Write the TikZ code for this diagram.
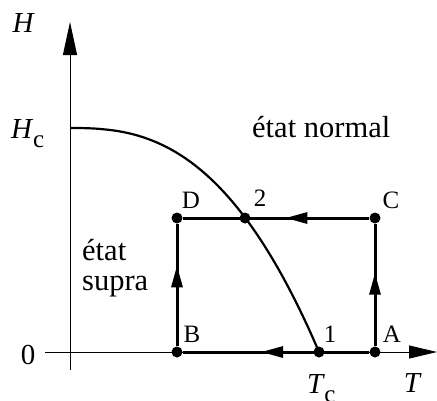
\documentclass[tikz,border=0pt]{standalone}
\usepackage{fontspec}
\setmainfont{Liberation Serif}
\usetikzlibrary{arrows.meta,decorations.markings}
\tikzset{
  dot/.style={circle,fill=black,minimum size=11pt,inner sep=0pt},
  axis/.style={line width=1pt,-{Triangle[length=33pt,width=14pt]}},
  haxis/.style={line width=1pt,-{Triangle[length=28pt,width=13pt]}},
  cyc/.style={line width=3pt},
  midarrow/.style={postaction={decorate,decoration={markings,
     mark=at position #1 with {\arrow{Triangle[length=22pt,width=11pt]}}}}},
  lbl/.style={anchor=base,inner sep=0pt,font=\fontsize{25}{30}\selectfont},
  big/.style={anchor=base,inner sep=0pt,font=\fontsize{29}{32}\selectfont},
  txt/.style={anchor=base west,inner sep=0pt,font=\fontsize{30.5}{32}\selectfont,align=left},
}
\begin{document}
\begin{tikzpicture}[x=1pt,y=-1pt]
\useasboundingbox (0,0) rectangle (437,400);
% axes
\coordinate (vb) at (70,370);
\coordinate (vt) at (70,22);
\coordinate (hl) at (45,352);
\coordinate (hr) at (437,352);
\draw[axis] (vb) -- (vt);
\draw[haxis] (hl) -- (hr);
% points
\node[dot] (B) at (177,352) {};
\node[dot] (A) at (375,352) {};
\node[dot] (P1) at (319,352) {};
\node[dot] (D) at (177,218) {};
\node[dot] (C) at (375,218) {};
\node[dot] (P2) at (245,218) {};
\coordinate (Hc) at (70,128);
% curve
\draw[line width=2.2pt] (Hc) -- plot[domain=0.01:1,samples=60,smooth] ({70+249*\x},{352-224*(1-pow(\x,2.6))});
% cycle
\draw[cyc,midarrow=0.58] (A) -- (B);
\draw[cyc,midarrow=0.60] (A) -- (C);
\draw[cyc,midarrow=0.45] (C) -- (D);
\draw[cyc,midarrow=0.66] (B) -- (D);
% labels
\node[lbl] (lD) at (191,208) {D};
\node[lbl] (l2) at (260,206) {2};
\node[lbl] (lC) at (391,208) {C};
\node[lbl] (lB) at (192,342) {B};
\node[lbl] (l1) at (330,342) {1};
\node[lbl] (lA) at (392,342) {A};
\node[big] (l0) at (28,364) {0};
\node[big] (lH) at (23,32) {\itshape H};
\node[big,anchor=base west] (lHc) at (11,138) {\itshape H\kern1pt\raisebox{-9pt}{\upshape\fontsize{25}{30}\selectfont c}};
\node[big,anchor=base west] (lTc) at (307,393) {\itshape T\kern1pt\raisebox{-9pt}{\upshape\fontsize{25}{30}\selectfont c}};
\node[big] (lT) at (412,392) {\itshape T};
\node[txt] (normal) at (252,137) {état normal};
\node[txt] (supra1) at (82,260) {état};
\node[txt] (supra2) at (82,290) {supra};
\end{tikzpicture}
\end{document}
